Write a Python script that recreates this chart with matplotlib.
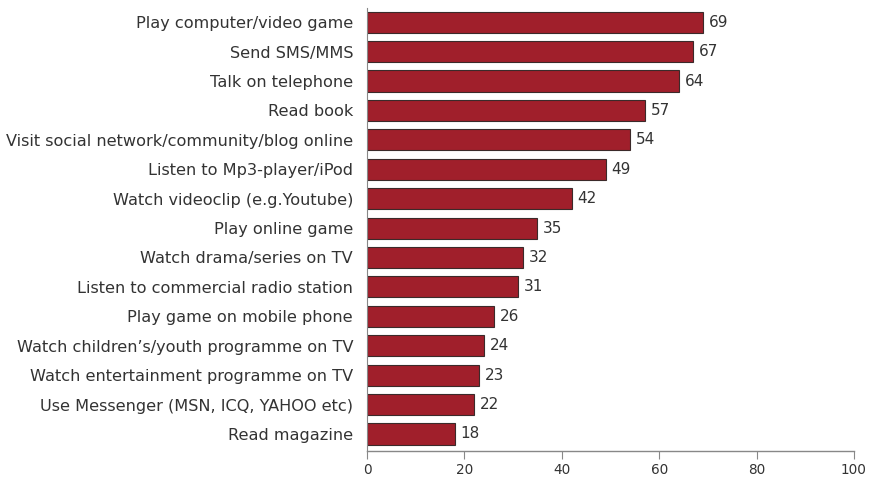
import matplotlib
matplotlib.use("Agg")
import matplotlib.pyplot as plt

# activities and share of respondents (%)
activities = [
    "Play computer/video game",
    "Send SMS/MMS",
    "Talk on telephone",
    "Read book",
    "Visit social network/community/blog online",
    "Listen to Mp3-player/iPod",
    "Watch videoclip (e.g.Youtube)",
    "Play online game",
    "Watch drama/series on TV",
    "Listen to commercial radio station",
    "Play game on mobile phone",
    "Watch children\u2019s/youth programme on TV",
    "Watch entertainment programme on TV",
    "Use Messenger (MSN, ICQ, YAHOO etc)",
    "Read magazine",
]
values = [69, 67, 64, 57, 54, 49, 42, 35, 32, 31, 26, 24, 23, 22, 18]
xticks = [0, 20, 40, 60, 80, 100]

plt.rcParams['font.family'] = ['DejaVu Sans']

fig = plt.figure(figsize=(8.69, 4.79), dpi=100)
ax = fig.add_axes([0.4223, 0.0585, 0.5604, 0.9245])

pos = list(range(len(activities)))
ax.barh(pos, values, height=0.72, color="#a01f2b", edgecolor="#3b2a2a", linewidth=0.8)

for p, v in zip(pos, values):
    ax.text(v + 1.2, p, str(v), va="center", ha="left", fontsize=11, color="#333333")

ax.set_yticks(pos)
ax.set_yticklabels(activities, fontsize=11.6, color="#333333")
ax.set_ylim(14.58, -0.48)
ax.set_xlim(0, 100)
ax.set_xticks(xticks)
ax.set_xticklabels([str(t) for t in xticks], fontsize=9.8, color="#333333")

for s in ["top", "right"]:
    ax.spines[s].set_visible(False)
ax.spines["left"].set_color("#888888")
ax.spines["left"].set_linewidth(0.8)
ax.spines["bottom"].set_color("#888888")
ax.spines["bottom"].set_linewidth(1.0)
ax.tick_params(axis="y", length=0, pad=10)
ax.tick_params(axis="x", length=6, color="#888888", pad=3)

fig.savefig("out.png", dpi=100)
